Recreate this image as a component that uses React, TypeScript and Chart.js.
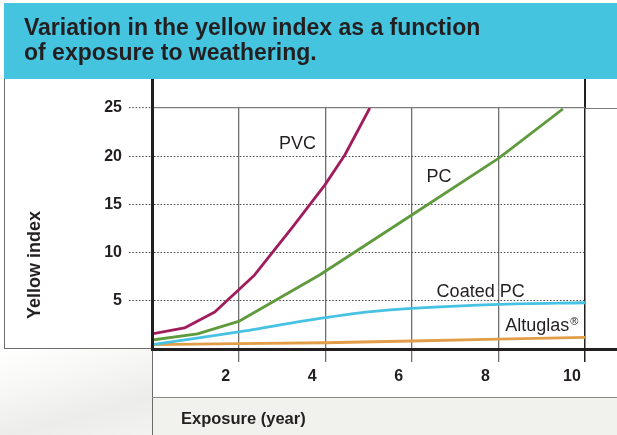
import React, { useEffect, useRef } from "react";
import { Chart, registerables } from "chart.js";

Chart.register(...registerables);

// ---- text ----
const titleLines = ["Variation in the yellow index as a function", "of exposure to weathering."];
const yAxisTitle = "Yellow index";
const xAxisTitle = "Exposure (year)";

// ---- axes ----
const xTickValues = [2, 4, 6, 8, 10];
const yTickValues = [5, 10, 15, 20, 25];
const xMin = 0;
const xMax = 10;
const yMin = 0;
const yMax = 25;

// ---- series ----
const seriesNames = ["PVC", "PC", "Coated PC", "Altuglas®"];
const seriesColors = ["#a01c5c", "#5f9a3d", "#47c2e2", "#e29d48"];

const pvcYears = [0, 0.75, 1.45, 2.37, 3.25, 3.99, 4.45, 5.03];
const pvcIndex = [1.56, 2.18, 3.84, 7.68, 12.66, 17.0, 20.1, 25.0];

const pcYears = [0, 1.05, 2.02, 3.87, 6.0, 8.01, 9.49];
const pcIndex = [0.93, 1.56, 2.9, 7.68, 13.9, 19.8, 24.9];

const coatedYears = [0, 2, 3.4, 4, 5, 6, 8, 10];
const coatedIndex = [0.45, 1.78, 2.83, 3.25, 3.85, 4.22, 4.63, 4.8];

const altuglasYears = [0, 2, 4, 6, 8, 10];
const altuglasIndex = [0.45, 0.55, 0.65, 0.83, 1.02, 1.2];

// ---- in-chart series labels (data coordinates: centre year, baseline index) ----
const labelText = ["PVC", "PC", "Coated PC", "Altuglas"];
const labelSup = ["", "", "", "®"];
const labelYear = [3.36, 6.63, 7.59, 9.0];
const labelIndex = [20.75, 17.32, 5.39, 1.9];

const INK = "#231f20";
const FONT = '"Liberation Sans", Arial, sans-serif';

const seriesLabelPlugin = {
  id: "seriesLabels",
  afterDatasetsDraw(chart: any) {
    const { ctx, scales } = chart;
    const xs = scales.x;
    const ys = scales.y;
    ctx.save();
    ctx.fillStyle = INK;
    ctx.textBaseline = "alphabetic";
    ctx.textAlign = "left";
    labelText.forEach((t, i) => {
      ctx.font = `18px ${FONT}`;
      const w = ctx.measureText(t).width;
      ctx.font = `11px ${FONT}`;
      const ws = labelSup[i] ? ctx.measureText(labelSup[i]).width + 1 : 0;
      const cx = xs.getPixelForValue(labelYear[i]);
      const by = ys.getPixelForValue(labelIndex[i]);
      const x0 = cx - (w + ws) / 2;
      ctx.font = `18px ${FONT}`;
      ctx.fillText(t, x0, by);
      if (labelSup[i]) {
        ctx.font = `11px ${FONT}`;
        ctx.fillText(labelSup[i], x0 + w + 1, by - 6);
      }
    });
    ctx.restore();
  },
};

function ChartCanvas() {
  const ref = useRef<HTMLCanvasElement | null>(null);
  useEffect(() => {
    if (!ref.current) return;
    const yearSets = [pvcYears, pcYears, coatedYears, altuglasYears];
    const indexSets = [pvcIndex, pcIndex, coatedIndex, altuglasIndex];
    const chart = new Chart(ref.current, {
      type: "line",
      data: {
        datasets: seriesNames.map((name, s) => ({
          label: name,
          data: yearSets[s].map((x, i) => ({ x, y: indexSets[s][i] })),
          borderColor: seriesColors[s],
          backgroundColor: seriesColors[s],
          borderWidth: 2.8,
          pointRadius: 0,
          fill: false,
          tension: s === 2 ? 0.3 : 0,
          borderJoinStyle: "round" as const,
        })),
      },
      options: {
        responsive: false,
        animation: false,
        devicePixelRatio: 1,
        events: [],
        layout: { padding: { top: 108, right: 32, bottom: 0, left: 0 } },
        plugins: {
          legend: { display: false },
          tooltip: { enabled: false },
          title: { display: false },
        },
        scales: {
          x: {
            type: "linear",
            min: xMin,
            max: xMax,
            afterBuildTicks: (s: any) => {
              s.ticks = xTickValues.map((v) => ({ value: v }));
            },
            afterFit: (s: any) => {
              s.height = 86;
            },
            grid: {
              color: (c: any) => (c.tick && c.tick.value === xMax ? INK : "#6e6e6e"),
              lineWidth: (c: any) => (c.tick && c.tick.value === xMax ? 1.5 : 1.3),
              tickLength: 13,
              drawTicks: true,
            },
            border: { display: true, color: INK, width: 3, z: 1 },
            ticks: {
              color: INK,
              font: { family: FONT, size: 16, weight: "bold" },
              padding: 5,
              labelOffset: -13,
              maxRotation: 0,
              autoSkip: false,
              callback: (v: any) => String(v),
            },
          },
          y: {
            type: "linear",
            min: yMin,
            max: yMax,
            afterBuildTicks: (s: any) => {
              s.ticks = yTickValues.map((v) => ({ value: v }));
            },
            afterFit: (s: any) => {
              s.width = 152;
            },
            grid: {
              color: (c: any) => (c.tick && c.tick.value === yMax ? "#7c7c7c" : "#444444"),
              lineWidth: (c: any) => (c.tick && c.tick.value === yMax ? 1.3 : 1),
              tickLength: 23,
              tickColor: "#444444",
              tickWidth: 1,
              tickBorderDash: [1.5, 1.8],
              drawTicks: true,
            },
            border: {
              display: true,
              color: INK,
              width: 3,
              z: 1,
              dash: (c: any) => (c.tick && c.tick.value !== yMax ? [1.5, 1.8] : []),
            },
            ticks: {
              color: INK,
              font: { family: FONT, size: 16, weight: "bold" },
              padding: 7,
              autoSkip: false,
              callback: (v: any) => String(v),
            },
          },
        },
      },
      plugins: [seriesLabelPlugin],
    } as any);
    return () => chart.destroy();
  }, []);
  return (
    <canvas
      ref={ref}
      width={617}
      height={435}
      style={{ position: "absolute", left: 0, top: 0, width: 617, height: 435 }}
    />
  );
}

const abs = (l: number, t: number, w: number, h: number, bg: string): React.CSSProperties => ({
  position: "absolute",
  left: l,
  top: t,
  width: w,
  height: h,
  background: bg,
});

export default function App() {
  return (
    <div
      style={{
        position: "fixed",
        left: 0,
        top: 0,
        width: 617,
        height: 435,
        overflow: "hidden",
        background: "#ffffff",
        fontFamily: FONT,
      }}
    >
      {/* backgrounds */}
      <div
        style={{
          ...abs(0, 349, 152, 86, ""),
          background: "linear-gradient(165deg, #ffffff 0%, #f7f7f5 35%, #ececea 70%, #f3f3f1 100%)",
        }}
      />
      <div style={abs(152, 397, 465, 38, "#f1f1ee")} />
      <div style={abs(4, 3, 613, 76, "#45c4e0")} />

      {/* frame lines */}
      <div style={abs(4, 79, 1.3, 270, "#6b6b6b")} />
      <div style={abs(4, 347.7, 148, 1.3, "#6b6b6b")} />
      <div style={abs(151, 79, 3, 30, INK)} />
      <div style={abs(584.3, 79, 1.5, 30, INK)} />
      <div style={abs(585, 107.6, 32, 1.3, "#7c7c7c")} />
      <div style={abs(585, 348, 32, 3, INK)} />
      <div style={abs(151.7, 350, 1.3, 85, "#6b6b6b")} />
      <div style={abs(152, 396.5, 465, 1.5, "#8a8a8a")} />

      <ChartCanvas />

      {/* title */}
      <div
        style={{
          position: "absolute",
          left: 24,
          top: 15,
          fontSize: 23,
          fontWeight: "bold",
          lineHeight: "24.6px",
          color: INK,
          whiteSpace: "pre",
        }}
      >
        {titleLines.map((l, i) => (
          <div key={i}>{l}</div>
        ))}
      </div>

      {/* y axis title */}
      <div
        style={{
          position: "absolute",
          left: 33.5,
          top: 265,
          fontSize: 18,
          fontWeight: "bold",
          lineHeight: "18px",
          color: INK,
          whiteSpace: "nowrap",
          transform: "translate(-50%, -50%) rotate(-90deg)",
        }}
      >
        {yAxisTitle}
      </div>

      {/* x axis title */}
      <div
        style={{
          position: "absolute",
          left: 181,
          top: 410.3,
          fontSize: 16.5,
          fontWeight: "bold",
          lineHeight: "16.5px",
          color: INK,
          whiteSpace: "nowrap",
        }}
      >
        {xAxisTitle}
      </div>
    </div>
  );
}
